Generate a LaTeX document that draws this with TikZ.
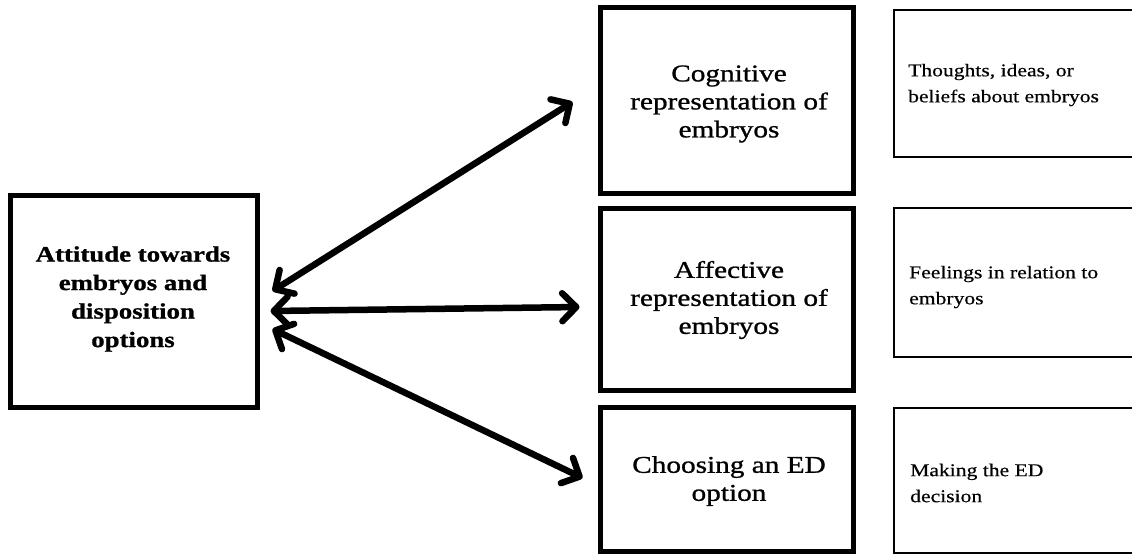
\documentclass[tikz,border=0pt]{standalone}
\usepackage{fontspec}
\setmainfont{Liberation Serif}
\newfontfamily\widefont[FakeStretch=1.22,FakeBold=1]{Liberation Serif}
\newfontfamily\notefont[FakeStretch=1.2,FakeBold=0.4]{Liberation Serif}
\usetikzlibrary{arrows.meta,calc}

\begin{document}
\begin{tikzpicture}[x=1pt,y=-1pt,
  heavybox/.style={draw, rectangle, line width=5pt, inner sep=0pt},
  lightbox/.style={draw, rectangle, line width=1.5pt, inner sep=0pt},
  bigtext/.style={align=center, inner sep=0pt,
    font=\widefont\fontsize{24}{28}\selectfont},
  boldtext/.style={align=center, inner sep=0pt,
    font=\widefont\bfseries\fontsize{22}{28.5}\selectfont},
  notetext/.style={align=left, anchor=west, inner sep=0pt,
    font=\notefont\fontsize{18}{26}\selectfont},
  barb/.tip={Straight Barb[length=14pt, width=28pt, line cap=round, line join=round]},
  link/.style={line width=6.5pt, barb-barb}]

\useasboundingbox (0,0) rectangle (1132,555);
\fill[white] (0,0) rectangle (1132,555);

% central concept
\node[heavybox, minimum width=247pt, minimum height=212pt] (att) at (133.5,301) {};
\node[boldtext] (att-t) at (133,299) {Attitude towards\\embryos and\\disposition\\options};

% the three components
\node[heavybox, minimum width=253pt, minimum height=186pt] (cog) at (726.5,100) {};
\node[heavybox, minimum width=253pt, minimum height=182pt] (aff) at (726.5,299) {};
\node[heavybox, minimum width=253pt, minimum height=144pt] (cho) at (726.5,479) {};

\node[bigtext] (cog-t) at (729,104) {Cognitive\\representation of\\embryos};
\node[bigtext] (aff-t) at (729,300) {Affective\\representation of\\embryos};
\node[bigtext] (cho-t) at (729,481) {Choosing an ED\\option};

% descriptions (boxes run off the right edge)
\node[lightbox, minimum width=251pt, minimum height=147pt] (cog-d) at (1019.5,83.5) {};
\node[lightbox, minimum width=251pt, minimum height=149pt] (aff-d) at (1019.5,282.5) {};
\node[lightbox, minimum width=251pt, minimum height=145pt] (cho-d) at (1019.5,480.5) {};

\node[notetext] (cog-dt) at (908,85) {Thoughts, ideas, or\\beliefs about embryos};
\node[notetext] (aff-dt) at (909,287) {Feelings in relation to\\embryos};
\node[notetext] (cho-dt) at (910,483) {Making the ED\\decision};

% connector end points
\coordinate (t1) at ($(att.east)+(13,-10)$);
\coordinate (h1) at ($(cog.west)+(-25,2)$);
\coordinate (t2) at ($(att.east)+(11,10)$);
\coordinate (h2) at ($(aff.west)+(-18,8)$);
\coordinate (t3) at ($(att.east)+(13,28)$);
\coordinate (h3) at ($(cho.west)+(-15,-1)$);

\draw[link] (t1) -- (h1);
\draw[link] (t2) -- (h2);
\draw[link] (t3) -- (h3);
\end{tikzpicture}
\end{document}
